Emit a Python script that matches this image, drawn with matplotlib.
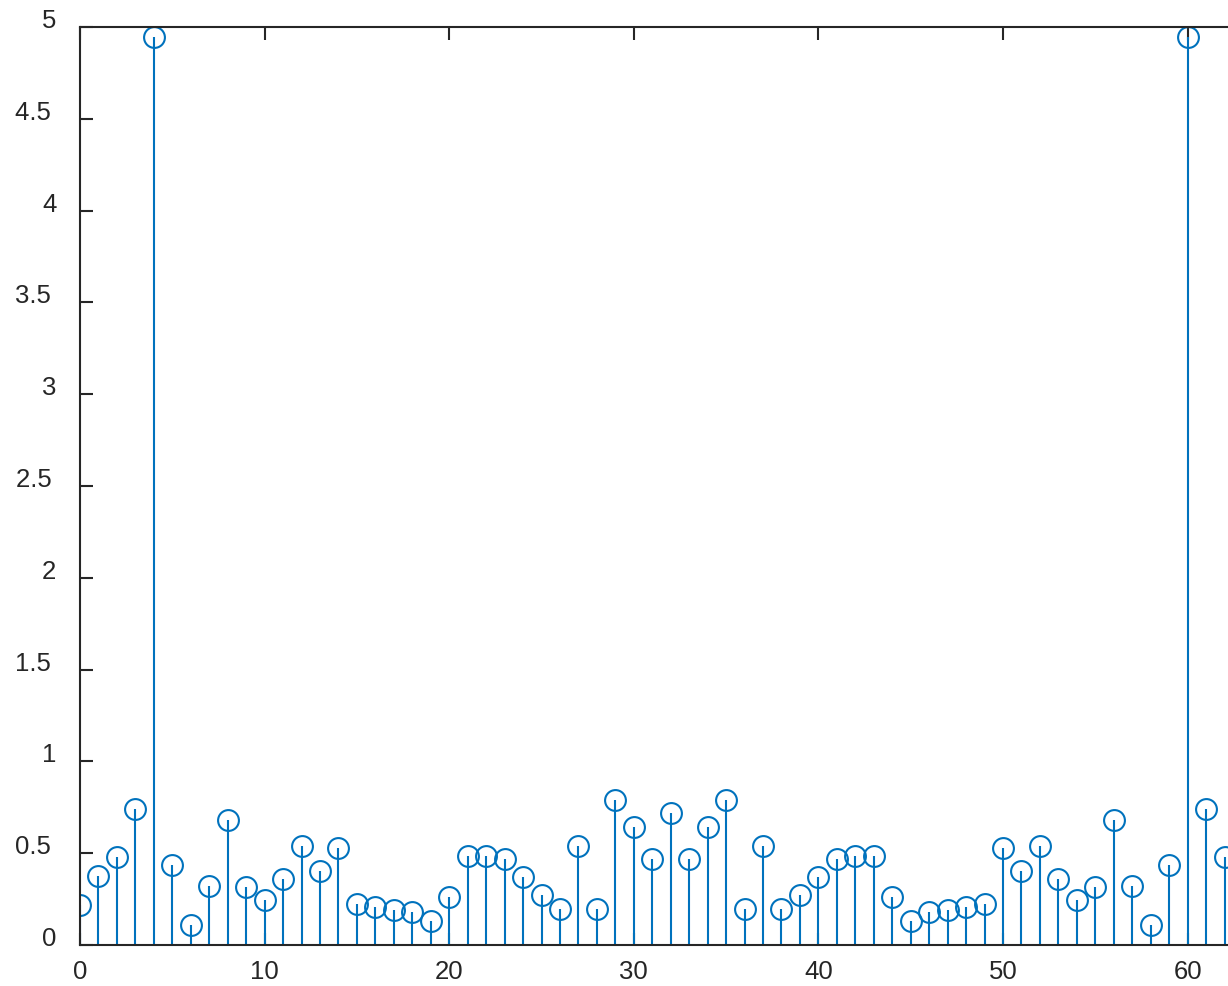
import numpy as np
import matplotlib as mpl
mpl.use('Agg')
import matplotlib.pyplot as plt

# magnitude values, index 0..63
n = np.arange(64)
mag = [0.218, 0.377, 0.481, 0.741, 4.944, 0.436, 0.111, 0.323,
       0.683, 0.314, 0.245, 0.359, 0.541, 0.401, 0.530, 0.223,
       0.205, 0.191, 0.178, 0.132, 0.260, 0.486, 0.486, 0.467,
       0.369, 0.271, 0.196, 0.541, 0.196, 0.788, 0.643, 0.467,
       0.719, 0.467, 0.643, 0.788, 0.196, 0.541, 0.196, 0.271,
       0.369, 0.467, 0.486, 0.486, 0.260, 0.132, 0.178, 0.191,
       0.205, 0.223, 0.530, 0.401, 0.541, 0.359, 0.245, 0.314,
       0.683, 0.323, 0.111, 0.436, 4.944, 0.741, 0.481, 0.377]
xticks = [0, 10, 20, 30, 40, 50, 60]
yticks = [0, 0.5, 1, 1.5, 2, 2.5, 3, 3.5, 4, 4.5, 5]
ylabels = ["0", "0.5", "1", "1.5", "2", "2.5", "3", "3.5", "4", "4.5", "5"]

plt.rcParams['font.family'] = ['Liberation Sans', 'DejaVu Sans']
blue = "#0072BD"
dark = "#262626"

fig = plt.figure(figsize=(12.28, 9.87), dpi=100)
W, H = 1228, 987
x0, x63 = 80, 80 + 63 * 18.46
ax = fig.add_axes([x0 / W, (H - 946) / H, (x63 - x0) / W, (946 - 28) / H])

markerline, stemlines, baseline = ax.stem(n, mag, basefmt=" ")
plt.setp(stemlines, color=blue, linewidth=1.5)
plt.setp(markerline, color=blue, marker="o", markersize=15,
         markerfacecolor="none", markeredgewidth=1.5)

ax.set_xlim(0, 63)
ax.set_ylim(0, 5)
ax.set_xticks(xticks)
ax.set_yticks(yticks)
# decimal labels sit a little further left in the original
ax.set_yticklabels([s + "\u2009" if "." in s else s for s in ylabels])
for s in ax.spines.values():
    s.set_color(dark)
    s.set_linewidth(1.5)
ax.tick_params(direction="in", length=9, width=1.5, color=dark,
               labelcolor=dark, labelsize=18.5, top=True, right=True)
ax.tick_params(axis="y", pad=17)
ax.tick_params(axis="x", pad=10)
for lab in ax.get_yticklabels():
    lab.set_verticalalignment("baseline")

fig.savefig("out.png", dpi=100)
